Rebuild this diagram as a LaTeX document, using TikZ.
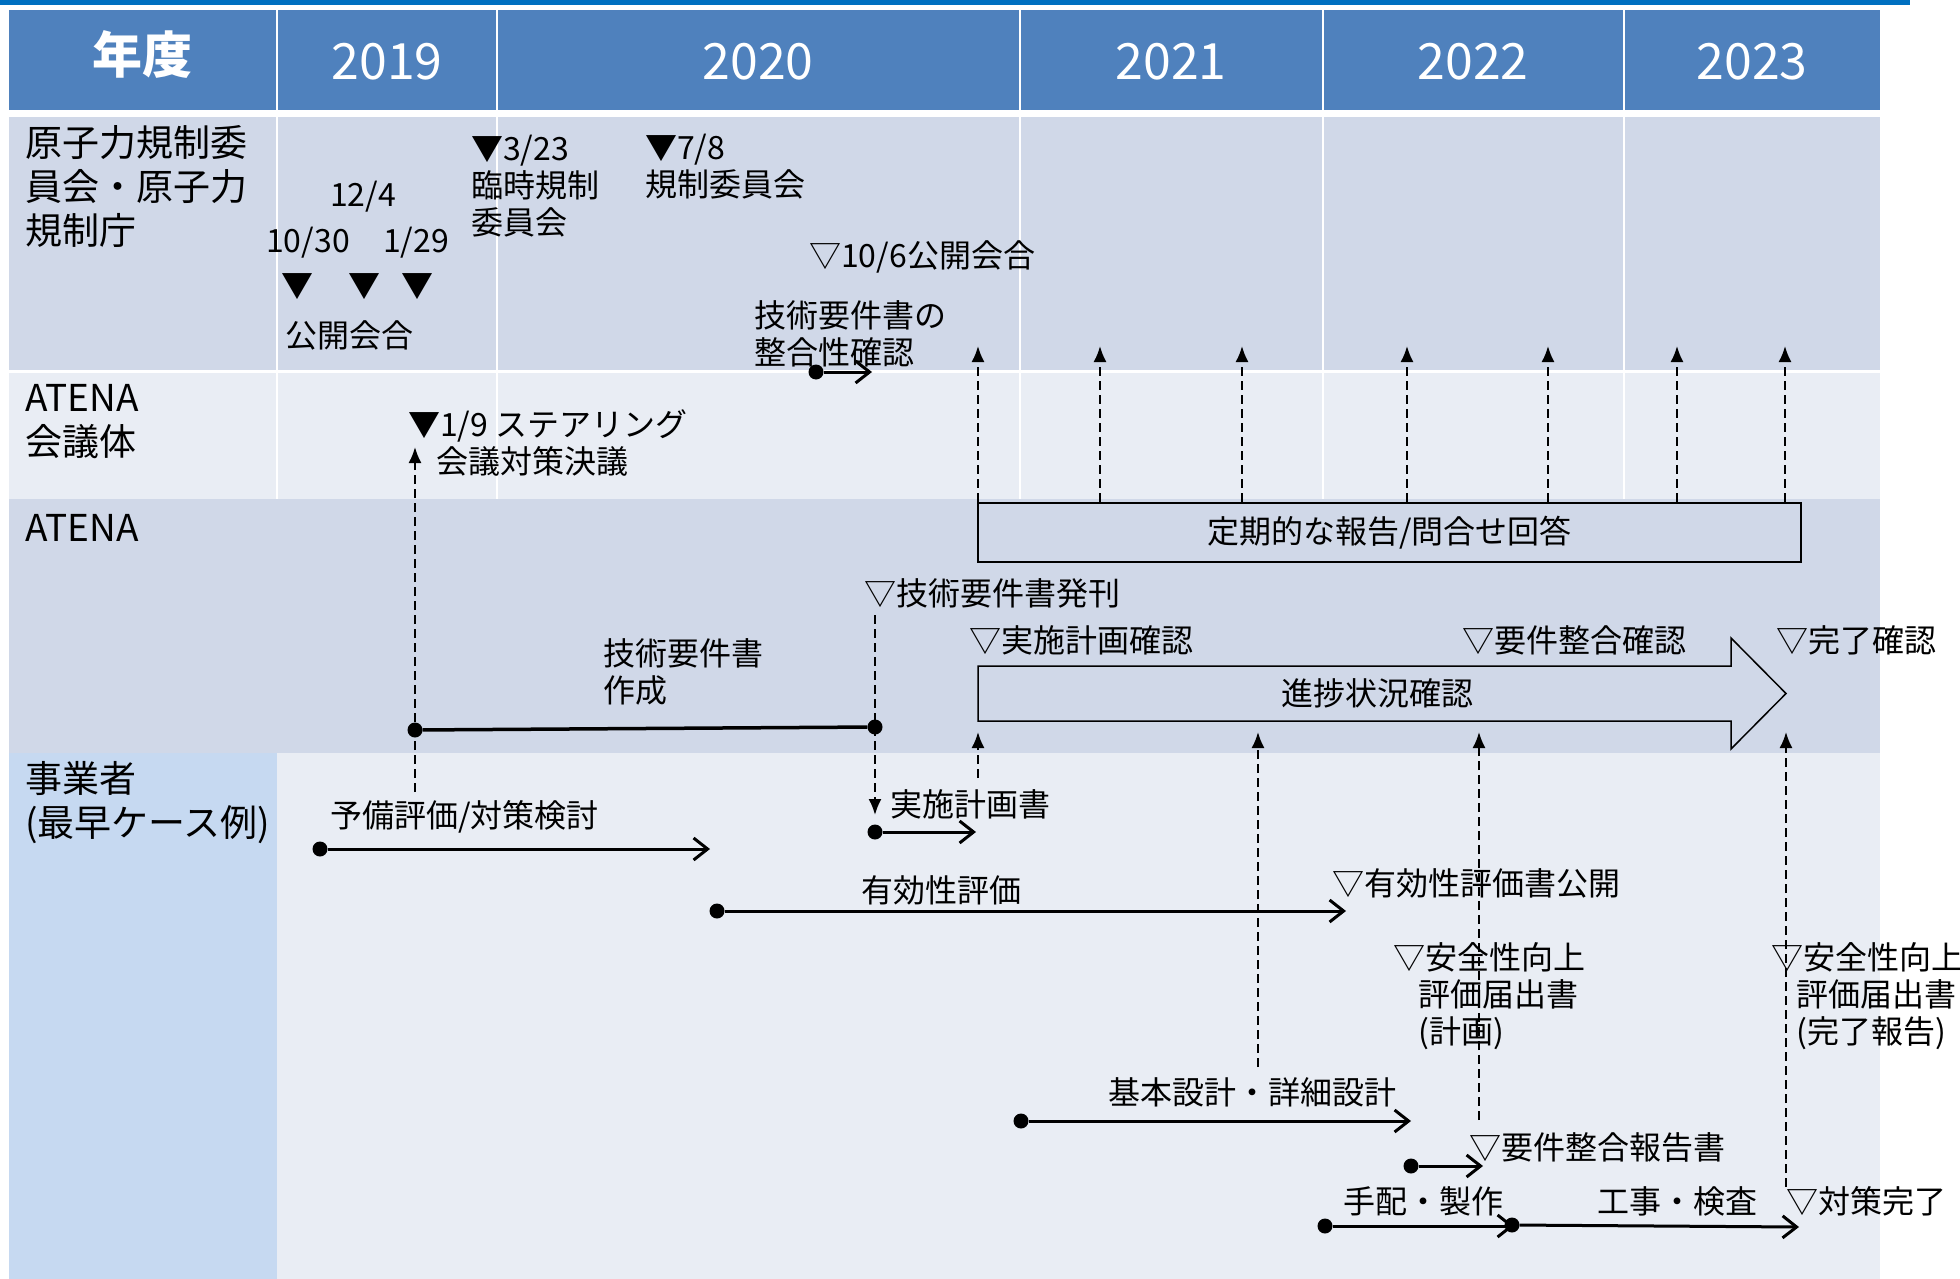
\documentclass[tikz,border=0pt]{standalone}
\usepackage{fontspec}
\setmainfont{Noto Sans CJK JP}
\usetikzlibrary{arrows.meta}
\definecolor{topblue}{HTML}{0070C0}
\definecolor{headblue}{HTML}{4F81BD}
\definecolor{rowdark}{HTML}{D0D8E8}
\definecolor{rowlight}{HTML}{E9EDF4}
\definecolor{sideblue}{HTML}{C6D9F1}
\newcommand{\txtsize}{\fontsize{32}{37}\selectfont}
\newcommand{\rowsize}{\fontsize{37}{44}\selectfont}
\newcommand{\yearsize}{\fontsize{50}{58}\selectfont}
\begin{document}
\begin{tikzpicture}[x=1pt,y=-1pt,
  txt/.style={anchor=west,inner sep=0pt,align=left,font=\txtsize},
  mid/.style={inner sep=0pt,font=\txtsize},
  rowlab/.style={anchor=west,inner sep=0pt,align=left,font=\rowsize},
  year/.style={anchor=base,inner sep=0pt,text=white,font=\yearsize},
  dot/.style={circle,fill=black,inner sep=0pt,minimum size=15pt},
  flow/.style={draw,line width=3pt,-{Straight Barb[length=14pt,width=22pt]}},
  link/.style={draw,line width=2pt,dash pattern=on 9pt off 5pt,-{Latex[length=16pt,width=13pt]}}]
\useasboundingbox (0,0) rectangle (1960,1279);
\fill[white] (0,0) rectangle (1960,1279);
\fill[topblue] (0,0) rectangle (1910,5);
\fill[headblue] (9,10) rectangle (1880,110);
\fill[rowdark] (9,117) rectangle (1880,370);
\fill[rowlight] (9,373) rectangle (1880,499);
\fill[rowdark] (9,499) rectangle (1880,753);
\fill[rowlight] (9,753) rectangle (1880,1279);
\fill[sideblue] (9,753) rectangle (277,1279);
\foreach \x in {277,497,1020,1323,1624}
  \draw[white,line width=2.5pt] (\x,10) -- (\x,499);

\node[inner sep=0pt,text=white,font=\yearsize\bfseries] (fy) at (142,55) {年度};
\node[year] (y2019) at (387,80) {2019};
\node[year] (y2020) at (758,80) {2020};
\node[year] (y2021) at (1171,80) {2021};
\node[year] (y2022) at (1473,80) {2022};
\node[year] (y2023) at (1752,80) {2023};

% regulator
\node[rowlab] (nra) at (25,186) {原子力規制委\\員会・原子力\\規制庁};
\node[mid] (d1204) at (363,197) {12/4};
\node[mid] (d1030) at (308,243) {10/30};
\node[mid] (d0129) at (416,243) {1/29};
\node[mid] (m1030) at (297,287) {▼};
\node[mid] (m1204) at (364,287) {▼};
\node[mid] (m0129) at (417,287) {▼};
\node[mid] (pub) at (349,335) {公開会合};
\node[txt] (d0323) at (471,186) {▼3/23\\臨時規制\\委員会};
\node[txt] (d0708) at (645,167) {▼7/8\\規制委員会};
\node[txt] (d1006) at (809,257) {▽10/6公開会合};
\node[txt] (chk) at (754,334) {技術要件書の\\整合性確認};
\node[dot] (chkdot) at (816,372) {};
\coordinate (chkend) at (872,372);
\path[flow] (chkdot) -- (chkend);

% ATENA meeting
\node[rowlab] (meet) at (25,422) {ATENA\\会議体};
\node[txt] (d0109) at (408,443) {▼1/9 ステアリング\\\hspace{28pt}会議対策決議};

% ATENA
\node[rowlab] (atena) at (25,528) {ATENA};
\node[draw,line width=2.5pt,fill=rowdark,minimum width=823pt,minimum height=59pt,inner sep=0pt,font=\txtsize] (report) at (1389.5,532.5) {定期的な報告/問合せ回答};
\foreach \x [count=\i] in {978,1100,1242,1407,1548,1677,1785} {
  \coordinate (rep\i) at (\x,346);
  \path[link] (report.north -| rep\i) -- (rep\i);
}
\node[txt] (issue) at (864,593) {▽技術要件書発刊};
\node[txt] (plancheck) at (969,640) {▽実施計画確認};
\node[txt] (reqcheck) at (1462,640) {▽要件整合確認};
\node[txt] (donecheck) at (1776,640) {▽完了確認};
\node[txt] (mk) at (603,672) {技術要件書\\作成};
\node[dot] (mkstart) at (415,730) {};
\node[dot] (mkend) at (875,727) {};
\path[draw,line width=3.5pt] (mkstart) -- (mkend);
\coordinate (steerlow) at (415,792);
\coordinate (steertop) at (415,447);
\path[link] (steerlow) -- (steertop);
\coordinate (issuetop) at (875,615);
\coordinate (issuelow) at (875,815);
\path[link] (issuetop) -- (issuelow);
\path[draw,line width=1.5pt,fill=rowdark] (978,666) -- (1731,666) -- (1731,638) -- (1786,693.5)
  -- (1731,749) -- (1731,721) -- (978,721) -- cycle;
\node[mid] (prog) at (1377,693.5) {進捗状況確認};
\foreach \x/\y [count=\i] in {978/778,1258/1067,1479/1120,1786/1187} {
  \coordinate (pl\i) at (\x,\y);
  \coordinate (pt\i) at (\x,732);
  \path[link] (pl\i) -- (pt\i);
}

% licensee
\node[rowlab] (lic) at (25,803) {事業者\\(最早ケース例)};
\node[txt] (prep) at (330,817) {予備評価/対策検討};
\node[dot] (prepdot) at (320,849) {};
\coordinate (prepend) at (710,849);
\path[flow] (prepdot) -- (prepend);
\node[txt] (plan) at (890,804) {実施計画書};
\node[dot] (plandot) at (875,832) {};
\coordinate (planend) at (976,832);
\path[flow] (plandot) -- (planend);
\node[txt] (eff) at (861,890) {有効性評価};
\node[dot] (effdot) at (717,911) {};
\coordinate (effend) at (1346,911);
\path[flow] (effdot) -- (effend);
\node[txt] (effpub) at (1332,883) {▽有効性評価書公開};
\node[txt] (safeplan) at (1393,996) {▽安全性向上\\\hspace{25pt}評価届出書\\\hspace{25pt}(計画)};
\node[txt] (safedone) at (1771,996) {▽安全性向上\\\hspace{25pt}評価届出書\\\hspace{25pt}(完了報告)};
\node[txt] (design) at (1108,1092) {基本設計・詳細設計};
\node[dot] (designdot) at (1021,1121) {};
\coordinate (designend) at (1411,1121);
\path[flow] (designdot) -- (designend);
\node[txt] (reqrep) at (1469,1147) {▽要件整合報告書};
\node[dot] (reqdot) at (1411,1166) {};
\coordinate (reqend) at (1483,1166);
\path[flow] (reqdot) -- (reqend);
\node[txt] (make) at (1343,1201) {手配・製作};
\node[dot] (makedot) at (1325,1226) {};
\coordinate (makeend) at (1514,1226);
\path[flow] (makedot) -- (makeend);
\node[txt] (build) at (1597,1201) {工事・検査};
\node[dot] (builddot) at (1512,1225) {};
\coordinate (buildend) at (1799,1227);
\path[flow] (builddot) -- (buildend);
\node[txt] (fin) at (1786,1201) {▽対策完了};
\end{tikzpicture}
\end{document}
